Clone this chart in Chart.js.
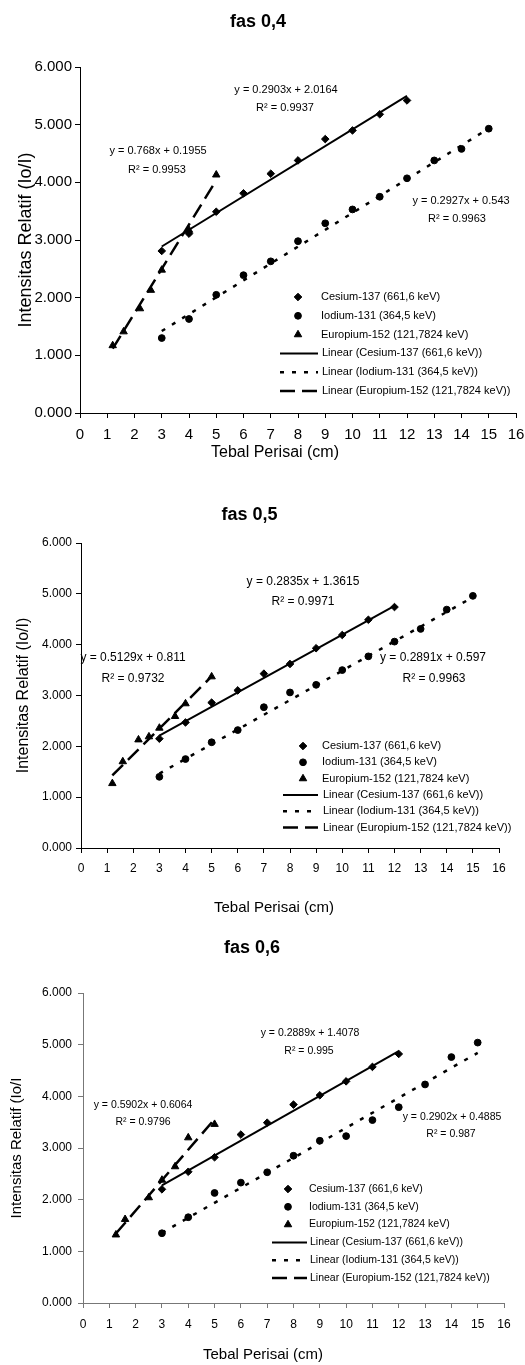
<!DOCTYPE html>
<html>
<head>
<meta charset="utf-8">
<script src="https://cdn.jsdelivr.net/npm/chart.js@4/dist/chart.umd.min.js"></script>
<style>
	body { margin: 0; background: #fff; width: 525px; height: 1365px; position: relative; overflow: hidden; }
	canvas { position: absolute; left: 0; }
</style>
</head>
<body>
<canvas id="c04" width="525" height="470" style="top:0"></canvas>
<canvas id="c05" width="525" height="440" style="top:480px"></canvas>
<canvas id="c06" width="525" height="445" style="top:920px"></canvas>
<script>
(function () {
	'use strict';

	// thickness (cm)
	var xCs = [3, 4, 5, 6, 7, 8, 9, 10, 11, 12];
	var xI = [3, 4, 5, 6, 7, 8, 9, 10, 11, 12, 13, 14, 15];

	// fas 0,4
	var cs04 = [2.81, 3.11, 3.49, 3.81, 4.15, 4.38, 4.75, 4.90, 5.18, 5.42];
	var i04 = [1.30, 1.63, 2.05, 2.39, 2.63, 2.98, 3.29, 3.53, 3.75, 4.07, 4.38, 4.58, 4.93];
	var xEu04 = [1.2, 1.6, 2.2, 2.6, 3, 4, 5];
	var eu04 = [1.17, 1.41, 1.81, 2.13, 2.48, 3.17, 4.13];
	var slope04 = ['0.2903', '0.2927', '0.768'];
	var icpt04 = ['2.0164', '0.543', '0.1955'];
	var r2_04 = ['0.9937', '0.9963', '0.9953'];

	// fas 0,5
	var cs05 = [2.15, 2.47, 2.86, 3.10, 3.43, 3.62, 3.93, 4.19, 4.49, 4.74];
	var i05 = [1.40, 1.75, 2.08, 2.32, 2.77, 3.06, 3.21, 3.50, 3.77, 4.06, 4.31, 4.69, 4.96];
	var xEu05 = [1.2, 1.6, 2.2, 2.6, 3, 3.6, 4, 5];
	var eu05 = [1.27, 1.70, 2.13, 2.19, 2.36, 2.59, 2.84, 3.37];
	var slope05 = ['0.2835', '0.2891', '0.5129'];
	var icpt05 = ['1.3615', '0.597', '0.811'];
	var r2_05 = ['0.9971', '0.9963', '0.9732'];

	// fas 0,6
	var cs06 = [2.20, 2.54, 2.82, 3.26, 3.49, 3.84, 4.02, 4.29, 4.57, 4.82];
	var i06 = [1.35, 1.66, 2.13, 2.33, 2.53, 2.85, 3.14, 3.23, 3.54, 3.79, 4.23, 4.76, 5.04];
	var xEu06 = [1.25, 1.6, 2.5, 3, 3.5, 4, 5];
	var eu06 = [1.32, 1.62, 2.04, 2.38, 2.64, 3.20, 3.46];
	var slope06 = ['0.2889', '0.2902', '0.5902'];
	var icpt06 = ['1.4078', '0.4885', '0.6064'];
	var r2_06 = ['0.995', '0.987', '0.9796'];

	var yTicks = [0, 1, 2, 3, 4, 5, 6];
	var names = ['Cesium-137 (661,6 keV)', 'Iodium-131 (364,5 keV)', 'Europium-152 (121,7824 keV)'];

	var FONT = '"Liberation Sans", Arial, sans-serif';
	Chart.defaults.font.family = FONT;
	Chart.defaults.color = '#000';

	function pts(xs, ys) {
		return xs.map(function (x, i) { return { x: x, y: ys[i] }; });
	}

	function fitLine(xs, m, b) {
		var a = xs[0], z = xs[xs.length - 1];
		return [{ x: a, y: +m * a + +b }, { x: z, y: +m * z + +b }];
	}

	function datasets(cs, io, xEu, eu, m, b, lw) {
		return [
			{ label: names[0], data: pts(xCs, cs), pointStyle: 'rectRot', pointRadius: 3.8, backgroundColor: '#000', borderColor: '#000', borderWidth: 1 },
			{ label: names[1], data: pts(xI, io), pointStyle: 'circle', pointRadius: 3.4, backgroundColor: '#000', borderColor: '#000', borderWidth: 1 },
			{ label: names[2], data: pts(xEu, eu), pointStyle: 'triangle', pointRadius: 4.3, backgroundColor: '#000', borderColor: '#000', borderWidth: 1 },
			{ label: 'Linear (' + names[0] + ')', data: fitLine(xCs, m[0], b[0]), showLine: true, pointRadius: 0, borderColor: '#000', borderWidth: lw, borderDash: [] },
			{ label: 'Linear (' + names[1] + ')', data: fitLine(xI, m[1], b[1]), showLine: true, pointRadius: 0, borderColor: '#000', borderWidth: lw + 0.5, borderDash: [4, 8] },
			{ label: 'Linear (' + names[2] + ')', data: fitLine(xEu, m[2], b[2]), showLine: true, pointRadius: 0, borderColor: '#000', borderWidth: lw + 0.5, borderDash: [15, 7] }
		];
	}

	function eqTexts(m, b, r2, pos) {
		var out = [];
		for (var i = 0; i < 3; i++) {
			out.push({ text: 'y = ' + m[i] + 'x + ' + b[i], x: pos[i][0], y: pos[i][1] });
			out.push({ text: 'R\u00B2 = ' + r2[i], x: pos[i][2], y: pos[i][3] });
		}
		return out;
	}

	// equations, x-axis title and the legend inside the plot
	var extras = {
		id: 'extras',
		afterDraw: function (chart, args, o) {
			var ctx = chart.ctx;
			ctx.save();
			ctx.fillStyle = '#000';
			ctx.strokeStyle = '#000';
			ctx.textAlign = 'center';
			ctx.textBaseline = 'middle';
			ctx.font = o.eqFont + 'px ' + FONT;
			o.eqs.forEach(function (e) { ctx.fillText(e.text, e.x, e.y); });
			ctx.font = o.xTitleFont + 'px ' + FONT;
			ctx.fillText(o.xTitle, o.xTitleX, o.xTitleY);

			var lg = o.legend;
			ctx.font = lg.font + 'px ' + FONT;
			ctx.textAlign = 'left';
			chart.data.datasets.forEach(function (ds, i) {
				var y = lg.y + i * lg.dy;
				if (ds.showLine) {
					ctx.save();
					ctx.lineWidth = ds.borderWidth;
					ctx.setLineDash(ds.borderDash);
					ctx.beginPath();
					ctx.moveTo(lg.x0, y);
					ctx.lineTo(lg.x1, y);
					ctx.stroke();
					ctx.restore();
					ctx.fillText(ds.label, lg.tx + 1, y);
				} else {
					Chart.helpers.drawPoint(ctx, { pointStyle: ds.pointStyle, radius: ds.pointRadius, borderWidth: 1, rotation: 0 }, lg.mx, y);
					ctx.fillText(ds.label, lg.tx, y);
				}
			});
			ctx.restore();
		}
	};

	function build(id, g) {
		var axisGrid = { drawOnChartArea: false, tickLength: 5, color: g.axis };
		new Chart(document.getElementById(id), {
			type: 'scatter',
			data: { datasets: g.sets },
			options: {
				responsive: false,
				animation: false,
				layout: { padding: { top: 0, right: g.padR, bottom: 0, left: 0 } },
				plugins: {
					legend: { display: false },
					tooltip: { enabled: false },
					title: {
						display: true,
						text: g.title,
						color: '#000',
						font: { size: 18, weight: 'bold' },
						padding: { top: g.tTop, bottom: g.tBot }
					},
					extras: {
						eqs: g.eqs,
						eqFont: g.eqFont,
						xTitle: 'Tebal Perisai (cm)',
						xTitleFont: g.xTitleFont,
						xTitleX: g.xTitleX,
						xTitleY: g.xTitleY,
						legend: g.legend
					}
				},
				scales: {
					x: {
						type: 'linear',
						min: 0,
						max: 16,
						afterFit: function (s) { s.height = g.xH; },
						ticks: { stepSize: 1, autoSkip: false, maxRotation: 0, color: '#000', font: { size: g.tick, lineHeight: g.xLH }, padding: g.xPad },
						grid: axisGrid,
						border: { color: g.axis, width: 1 }
					},
					y: {
						min: 0,
						max: 6,
						afterFit: function (s) { s.width = g.yW; },
						afterBuildTicks: function (s) { s.ticks = yTicks.map(function (v) { return { value: v }; }); },
						ticks: {
							color: '#000',
							font: { size: g.tick },
							padding: g.yPad,
							callback: function (v) { return v.toFixed(3); }
						},
						grid: axisGrid,
						border: { color: g.axis, width: 1 },
						title: {
							display: true,
							text: g.yTitle,
							color: '#000',
							font: { size: g.yTitleSize },
							padding: { top: g.yTitlePad, bottom: 0 }
						}
					}
				}
			},
			plugins: [extras]
		});
	}

	build('c04', {
		title: 'fas 0,4',
		sets: datasets(cs04, i04, xEu04, eu04, slope04, icpt04, 2),
		eqs: eqTexts(slope04, icpt04, r2_04, [[286, 90, 285, 108], [461, 201, 457, 219], [158, 151, 157, 170]]),
		eqFont: 11,
		tTop: 11, tBot: 34.4,
		padR: 9, yW: 80, xH: 57,
		tick: 15, xPad: 0, xLH: 2.2, yPad: 3,
		axis: '#000',
		yTitle: 'Intensitas Relatif (Io/I)', yTitleSize: 18, yTitlePad: 15,
		xTitleFont: 16, xTitleX: 275, xTitleY: 453,
		legend: { y: 297, dy: 18.8, mx: 298, x0: 280, x1: 318, tx: 321, font: 11 }
	});

	build('c05', {
		title: 'fas 0,5',
		sets: datasets(cs05, i05, xEu05, eu05, slope05, icpt05, 2),
		eqs: eqTexts(slope05, icpt05, r2_05, [[303, 102, 303, 122], [433, 178, 434, 199], [133, 178, 133, 199]]),
		eqFont: 12,
		tTop: 24, tBot: 17.4,
		padR: 26, yW: 81, xH: 72,
		tick: 12, xPad: 8, xLH: 1.2, yPad: 4,
		axis: '#000',
		yTitle: 'Intensitas Relatif (Io/I)', yTitleSize: 16, yTitlePad: 14,
		xTitleFont: 15, xTitleX: 274, xTitleY: 428,
		legend: { y: 266, dy: 16.3, mx: 303, x0: 283, x1: 318, tx: 322, font: 11 }
	});

	build('c06', {
		title: 'fas 0,6',
		sets: datasets(cs06, i06, xEu06, eu06, slope06, icpt06, 2),
		eqs: eqTexts(slope06, icpt06, r2_06, [[310, 113, 309, 131], [452, 197, 451, 214], [143, 185, 143, 202]]),
		eqFont: 10.5,
		tTop: 17, tBot: 34.4,
		padR: 21, yW: 83, xH: 62,
		tick: 12, xPad: 9, xLH: 1.2, yPad: 6,
		axis: '#777',
		yTitle: 'Intensitas Relatif (Io/I', yTitleSize: 15, yTitlePad: 8,
		xTitleFont: 15, xTitleX: 263, xTitleY: 435,
		legend: { y: 269, dy: 17.8, mx: 288, x0: 272, x1: 307, tx: 309, font: 10.5 }
	});
})();
</script>
</body>
</html>
